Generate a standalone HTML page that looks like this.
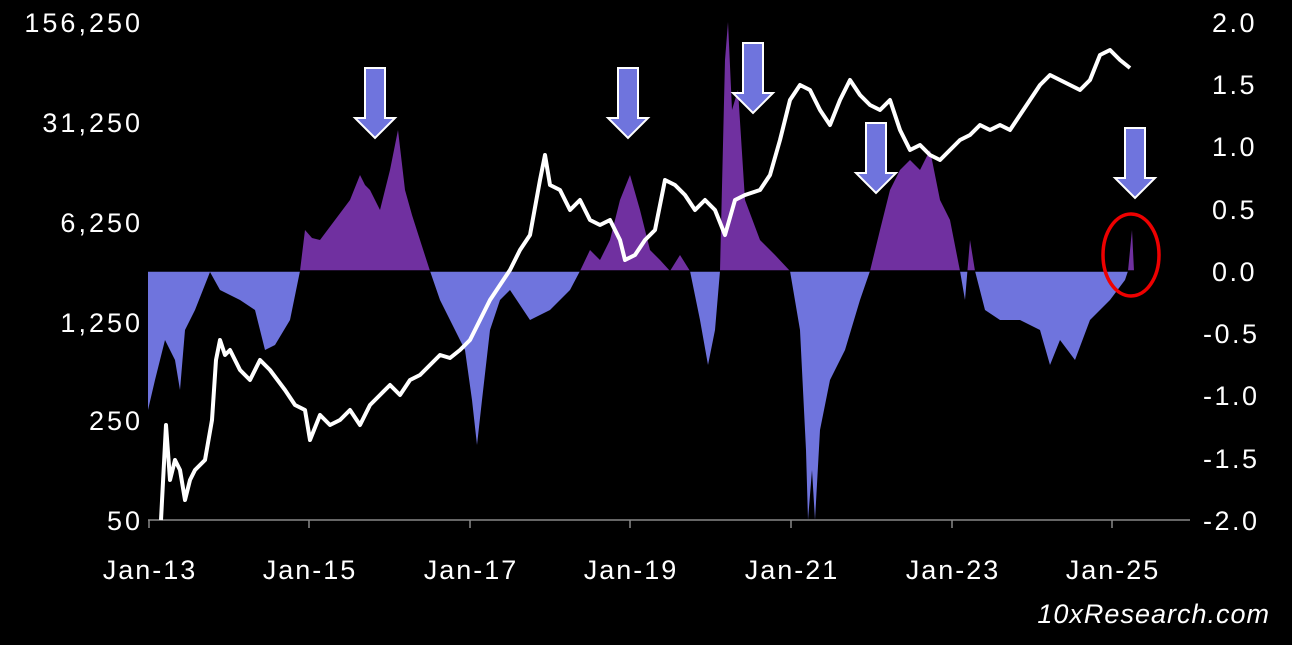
<!DOCTYPE html>
<html><head><meta charset="utf-8"><style>
html,body{margin:0;padding:0;background:#000;}
svg{display:block;}
text{font-family:"Liberation Sans",sans-serif;fill:#fff;}
</style></head><body>
<svg width="1292" height="645" viewBox="0 0 1292 645" xmlns="http://www.w3.org/2000/svg">
<defs>
<clipPath id="pos"><rect x="0" y="0" width="1292" height="271"/></clipPath>
<clipPath id="neg"><rect x="0" y="271" width="1292" height="300"/></clipPath>
</defs>
<rect width="1292" height="645" fill="#000"/>
<g id="osc">
<polygon fill="#7030a0" clip-path="url(#pos)" points="148,271 148,410 155,380 165,340 175,360 180,390 185,330 195,310 210,272 220,290 240,300 255,310 265,350 275,345 290,320 300,271 305,230 312,238 320,240 335,220 350,200 360,175 365,185 370,190 380,210 390,170 398,130 405,190 412,215 420,240 430,271 440,300 455,330 465,350 472,400 477,445 482,400 490,330 500,300 510,290 530,320 550,310 570,290 580,271 590,250 600,260 610,240 620,200 630,175 640,210 650,250 660,260 670,271 680,255 690,271 700,320 708,365 715,330 720,271 725,60 728,22 732,110 738,90 745,200 760,240 775,255 790,271 800,330 806,450 808,520 812,470 815,520 820,430 830,380 845,350 860,300 870,271 880,230 890,190 900,170 910,160 920,170 930,150 940,200 950,220 960,271 965,300 970,240 975,271 985,310 1000,320 1020,320 1040,330 1050,365 1060,340 1075,360 1090,320 1110,300 1125,280 1128,271 1132,230 1134,271"/>
<polygon fill="#6f74dd" clip-path="url(#neg)" points="148,271 148,410 155,380 165,340 175,360 180,390 185,330 195,310 210,272 220,290 240,300 255,310 265,350 275,345 290,320 300,271 305,230 312,238 320,240 335,220 350,200 360,175 365,185 370,190 380,210 390,170 398,130 405,190 412,215 420,240 430,271 440,300 455,330 465,350 472,400 477,445 482,400 490,330 500,300 510,290 530,320 550,310 570,290 580,271 590,250 600,260 610,240 620,200 630,175 640,210 650,250 660,260 670,271 680,255 690,271 700,320 708,365 715,330 720,271 725,60 728,22 732,110 738,90 745,200 760,240 775,255 790,271 800,330 806,450 808,520 812,470 815,520 820,430 830,380 845,350 860,300 870,271 880,230 890,190 900,170 910,160 920,170 930,150 940,200 950,220 960,271 965,300 970,240 975,271 985,310 1000,320 1020,320 1040,330 1050,365 1060,340 1075,360 1090,320 1110,300 1125,280 1128,271 1132,230 1134,271"/>
</g>
<line x1="148" y1="271" x2="1134" y2="271" stroke="#000" stroke-width="1.5"/>
<line x1="148" y1="520" x2="1190" y2="520" stroke="#888" stroke-width="1.5"/>
<g stroke="#888" stroke-width="1.5">
<line x1="149" y1="520" x2="149" y2="528"/><line x1="309" y1="520" x2="309" y2="528"/><line x1="470" y1="520" x2="470" y2="528"/><line x1="630" y1="520" x2="630" y2="528"/><line x1="791" y1="520" x2="791" y2="528"/><line x1="952" y1="520" x2="952" y2="528"/><line x1="1112" y1="520" x2="1112" y2="528"/>
</g>
<polyline fill="none" stroke="#fff" stroke-width="4" stroke-linejoin="round" points="161,520 166,425 170,480 175,460 180,470 185,500 190,480 195,470 205,460 212,420 216,360 220,340 225,355 230,350 240,370 250,380 260,360 270,370 285,390 295,405 305,410 310,440 320,415 330,425 340,420 350,410 360,425 370,405 380,395 390,385 400,395 410,380 420,375 430,365 440,355 450,358 460,350 470,340 480,320 490,300 500,285 510,270 520,250 530,235 540,180 545,155 550,185 560,190 570,210 580,200 590,220 600,225 610,220 620,240 625,260 635,255 645,240 655,230 665,180 675,185 685,195 695,210 705,200 715,210 725,235 735,200 745,195 760,190 770,175 780,140 790,100 800,85 810,90 820,110 830,125 840,100 850,80 860,95 870,105 880,110 890,100 900,130 910,150 920,145 930,155 940,160 950,150 960,140 970,135 980,125 990,130 1000,125 1010,130 1020,115 1030,100 1040,85 1050,75 1060,80 1070,85 1080,90 1090,80 1100,55 1110,50 1120,60 1130,68"/>
<g fill="#6f74dd" stroke="#fff" stroke-width="2">
<polygon points="365,68 385,68 385,118 395,118 375,138 355,118 365,118"/>
<polygon points="618,68 638,68 638,118 648,118 628,138 608,118 618,118"/>
<polygon points="743,43 763,43 763,93 773,93 753,113 733,93 743,93"/>
<polygon points="866,123 886,123 886,173 896,173 876,193 856,173 866,173"/>
<polygon points="1125,128 1145,128 1145,178 1155,178 1135,198 1115,178 1125,178"/>
</g>
<ellipse cx="1131" cy="255" rx="28" ry="41" fill="none" stroke="#e00" stroke-width="3.5"/>
<g font-size="27" text-anchor="end" letter-spacing="3">
<text x="143" y="32">156,250</text><text x="143" y="132">31,250</text><text x="143" y="232">6,250</text><text x="143" y="332">1,250</text><text x="143" y="430">250</text><text x="143" y="530">50</text>
</g>
<g font-size="27" text-anchor="start" letter-spacing="2.5">
<text x="1212" y="32">2.0</text><text x="1212" y="94">1.5</text><text x="1212" y="156">1.0</text><text x="1212" y="219">0.5</text><text x="1212" y="281">0.0</text><text x="1203" y="343">-0.5</text><text x="1203" y="405">-1.0</text><text x="1203" y="468">-1.5</text><text x="1203" y="530">-2.0</text>
</g>
<g font-size="27" text-anchor="middle" letter-spacing="2">
<text x="150" y="579">Jan-13</text><text x="310" y="579">Jan-15</text><text x="471" y="579">Jan-17</text><text x="631" y="579">Jan-19</text><text x="792" y="579">Jan-21</text><text x="953" y="579">Jan-23</text><text x="1113" y="579">Jan-25</text>
</g>
<text x="1270" y="623" font-size="27" font-style="italic" text-anchor="end" letter-spacing="1">10xResearch.com</text>
</svg>
</body></html>
